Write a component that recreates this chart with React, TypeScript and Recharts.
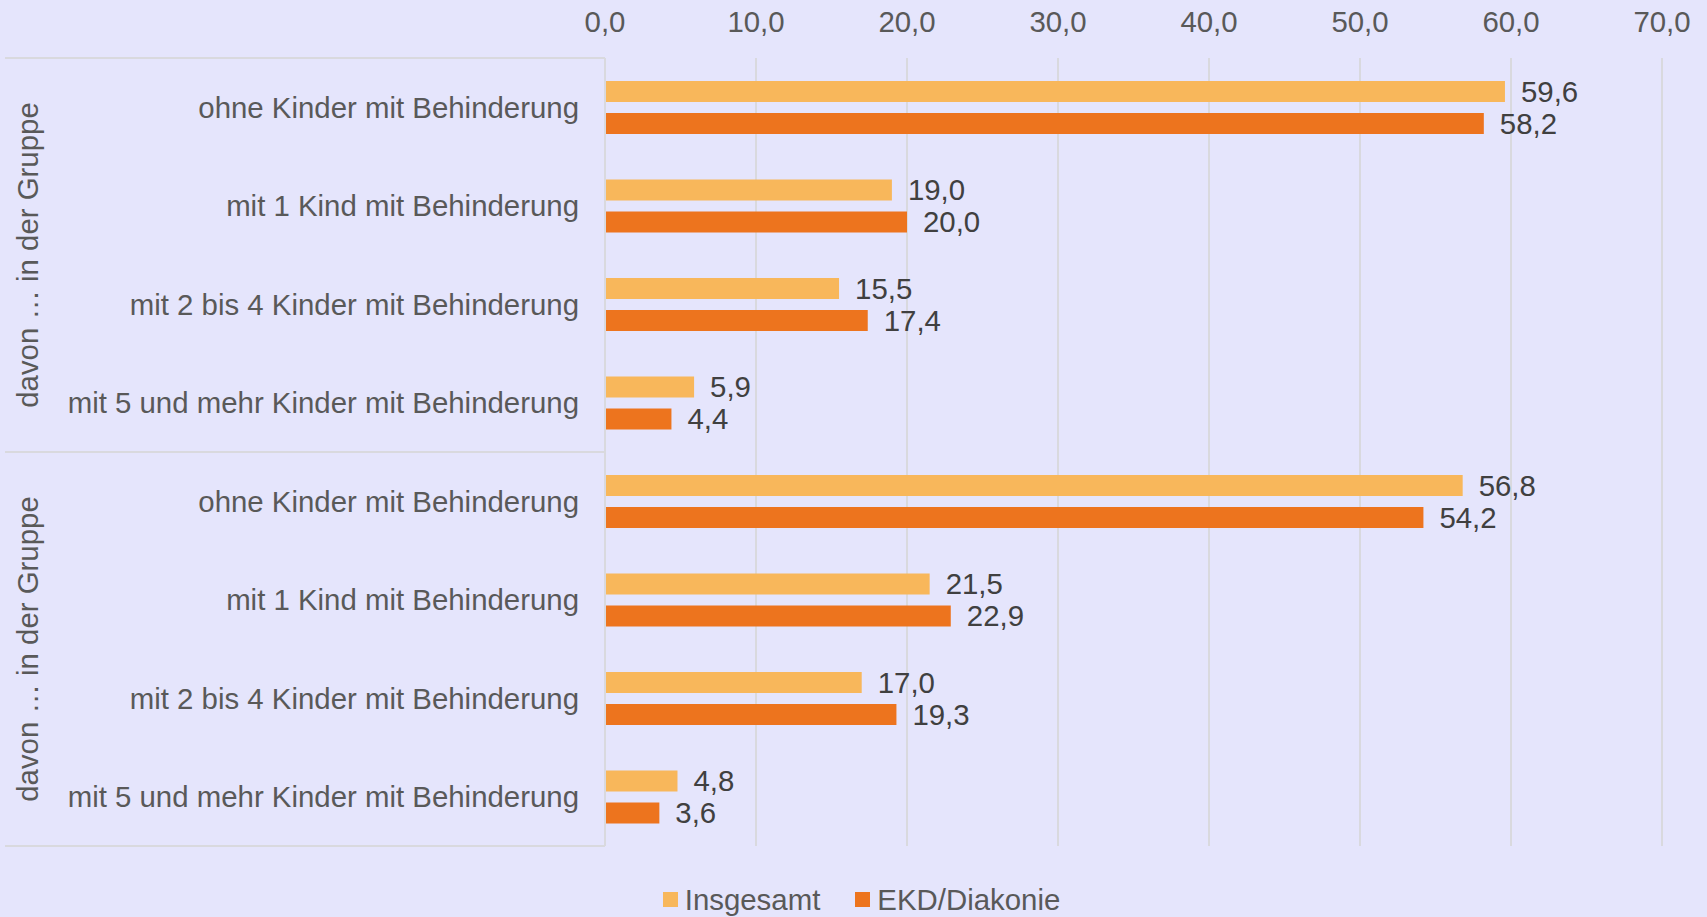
import { BarChart, Bar, XAxis, YAxis, CartesianGrid, LabelList } from 'recharts';

const categories = [
  'ohne Kinder mit Behinderung',
  'mit 1 Kind mit Behinderung',
  'mit 2 bis 4 Kinder mit Behinderung',
  'mit 5 und mehr Kinder mit Behinderung',
  'ohne Kinder mit Behinderung',
  'mit 1 Kind mit Behinderung',
  'mit 2 bis 4 Kinder mit Behinderung',
  'mit 5 und mehr Kinder mit Behinderung',
];
const groupLabels = ['davon … in der Gruppe', 'davon … in der Gruppe'];
const insgesamt = [59.6, 19.0, 15.5, 5.9, 56.8, 21.5, 17.0, 4.8];
const ekdDiakonie = [58.2, 20.0, 17.4, 4.4, 54.2, 22.9, 19.3, 3.6];
const xTicks = [0, 10, 20, 30, 40, 50, 60, 70];
const seriesNames = ['Insgesamt', 'EKD/Diakonie'];

const COLOR_LIGHT = '#F8B75B';
const COLOR_DARK = '#ED741E';
const BG = '#E5E5FC';
const GRID = '#D9D9DE';
const FONT = '"Liberation Sans", Arial, sans-serif';
const FS = 29.4;

const W = 1707;
const H = 917;
const MARGIN = { top: 0, right: 45, bottom: 71, left: 5 };
const Y_AXIS_W = 600;
const AXIS_X = MARGIN.left + Y_AXIS_W;
const GROUP_SIZE = 4;

const data = categories.map((label, i) => ({
  id: i,
  label,
  insgesamt: insgesamt[i],
  ekd: ekdDiakonie[i],
}));

const fmt = (v: number) => Number(v).toFixed(1).replace('.', ',');

function CategoryTick(props: any) {
  const { x, y, payload, index } = props;
  const half = payload?.offset ?? (H - MARGIN.top - 58 - MARGIN.bottom) / 16;
  const idx = typeof index === 'number' ? index : payload.index;
  const isGroupStart = idx % GROUP_SIZE === 0;
  const isLast = idx === categories.length - 1;
  const groupIdx = Math.floor(idx / GROUP_SIZE);
  return (
    <g>
      <text
        x={x}
        y={y}
        textAnchor="end"
        dominantBaseline="central"
        fontSize={FS}
        fontFamily={FONT}
        fill="#595959"
      >
        {data[payload.value]?.label}
      </text>
      {isGroupStart && (
        <>
          <line x1={MARGIN.left} x2={AXIS_X} y1={y - half} y2={y - half} stroke={GRID} strokeWidth={2} />
          <text
            transform={`translate(${MARGIN.left + 22}, ${y - half + half * GROUP_SIZE}) rotate(-90)`}
            textAnchor="middle"
            dominantBaseline="central"
            fontSize={FS}
            fontFamily={FONT}
            fill="#595959"
          >
            {groupLabels[groupIdx]}
          </text>
        </>
      )}
      {isLast && (
        <line x1={MARGIN.left} x2={AXIS_X} y1={y + half} y2={y + half} stroke={GRID} strokeWidth={2} />
      )}
    </g>
  );
}

export default function App() {
  return (
    <div style={{ position: 'fixed', left: 0, top: 0, width: W, height: H, background: BG, fontFamily: FONT }}>
      <BarChart
        width={W}
        height={H}
        data={data}
        layout="vertical"
        margin={MARGIN}
        barSize={21}
        barGap={11}
      >
        <CartesianGrid horizontal={false} vertical stroke={GRID} strokeWidth={2} />
        <XAxis
          type="number"
          orientation="top"
          domain={[0, 70]}
          ticks={xTicks}
          height={58}
          axisLine={false}
          tickLine={false}
          tickSize={0}
          tickMargin={26}
          tickFormatter={fmt}
          tick={{ fontSize: FS, fill: '#595959', fontFamily: FONT }}
        />
        <YAxis
          type="category"
          dataKey="id"
          width={Y_AXIS_W}
          axisLine={{ stroke: GRID, strokeWidth: 2 }}
          tickLine={false}
          tickSize={0}
          tickMargin={26}
          interval={0}
          tick={<CategoryTick />}
        />
        <Bar dataKey="insgesamt" name={seriesNames[0]} fill={COLOR_LIGHT} isAnimationActive={false}>
          <LabelList
            dataKey="insgesamt"
            position="right"
            offset={16}
            formatter={(v: any) => fmt(v)}
            style={{ fontSize: FS, fill: '#404040', fontFamily: FONT }}
          />
        </Bar>
        <Bar dataKey="ekd" name={seriesNames[1]} fill={COLOR_DARK} isAnimationActive={false}>
          <LabelList
            dataKey="ekd"
            position="right"
            offset={16}
            formatter={(v: any) => fmt(v)}
            style={{ fontSize: FS, fill: '#404040', fontFamily: FONT }}
          />
        </Bar>
      </BarChart>
      <div
        style={{
          position: 'absolute',
          left: 0,
          top: 883,
          width: W,
          height: 33,
          display: 'flex',
          justifyContent: 'center',
          alignItems: 'center',
          paddingLeft: 16,
          boxSizing: 'border-box',
          fontSize: FS,
          color: '#595959',
        }}
      >
        {seriesNames.map((name, i) => (
          <div key={name} style={{ display: 'flex', alignItems: 'center', marginLeft: i === 0 ? 0 : 35 }}>
            <span style={{ width: 15, height: 15, background: i === 0 ? COLOR_LIGHT : COLOR_DARK, marginRight: 7 }} />
            <span>{name}</span>
          </div>
        ))}
      </div>
    </div>
  );
}
